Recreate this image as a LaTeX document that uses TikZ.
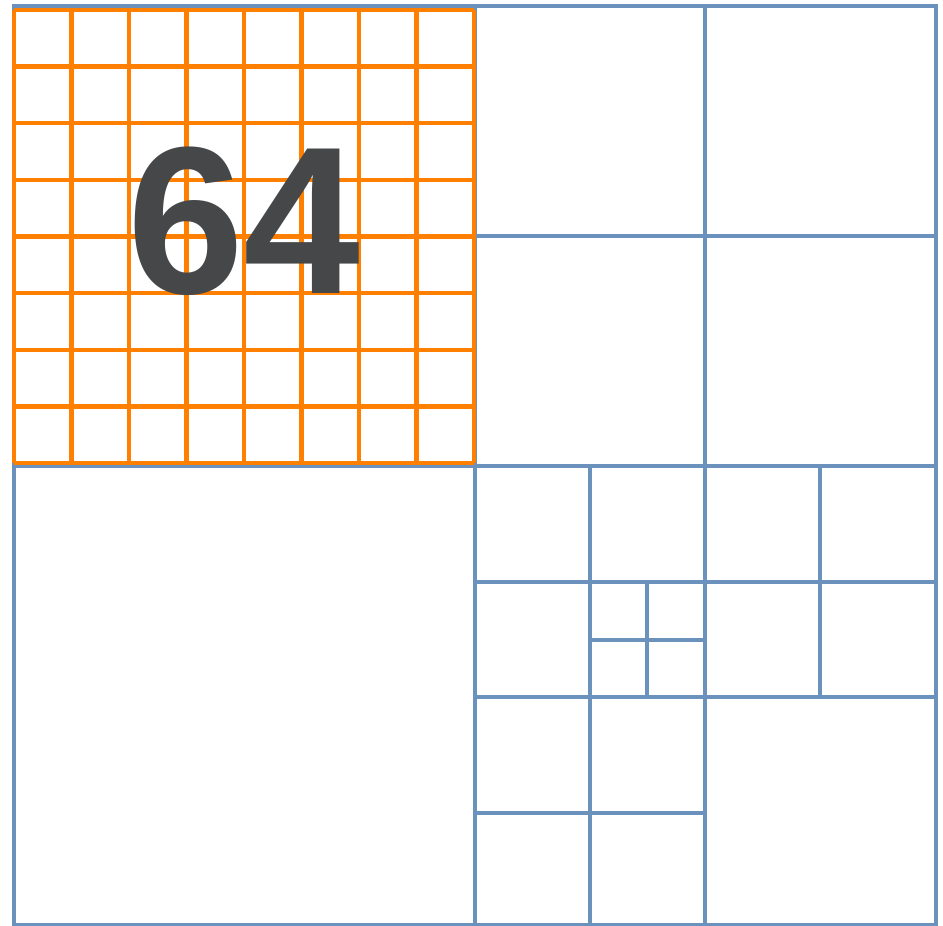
\documentclass[tikz,border=0pt]{standalone}
\usepackage{fontspec}
\setmainfont{Liberation Sans}
\definecolor{qblue}{RGB}{106,146,188}
\definecolor{qorange}{RGB}{255,128,0}
\definecolor{qtext}{RGB}{70,71,73}
\begin{document}
\begin{tikzpicture}[x=0.5pt,y=-0.5pt,
  bl/.style={draw=qblue,line width=2.2pt},
  og/.style={draw=qorange,line width=2.2pt}]
\useasboundingbox (0,0) rectangle (943,926);
% blue quadtree
\draw[bl] (14,6) rectangle (936,925);
\draw[bl] (475,6) -- (475,925);
\draw[bl] (14,466) -- (936,466);
% top-right quadrant
\draw[bl] (705,6) -- (705,466);
\draw[bl] (475,236) -- (936,236);
% bottom-right quadrant
\draw[bl] (705,466) -- (705,925);
\draw[bl] (475,697) -- (936,697);
% its sub-quadrants
\draw[bl] (590,466) -- (590,697);
\draw[bl] (475,582) -- (705,582);
\draw[bl] (647,582) -- (647,697);
\draw[bl] (590,640) -- (705,640);
\draw[bl] (820,466) -- (820,697);
\draw[bl] (705,582) -- (936,582);
\draw[bl] (590,697) -- (590,925);
\draw[bl] (475,813) -- (705,813);
% orange 8x8 grid
\foreach \i in {0,...,8} {
  \draw[og] ({14+57.5*\i},10) -- ({14+57.5*\i},463);
  \draw[og] (14,{10+56.625*\i}) -- (474,{10+56.625*\i});
}
\node[text=qtext,font=\fontsize{105pt}{105pt}\selectfont\bfseries,inner sep=0pt] (label) at (244,221) {64};
\end{tikzpicture}
\end{document}
